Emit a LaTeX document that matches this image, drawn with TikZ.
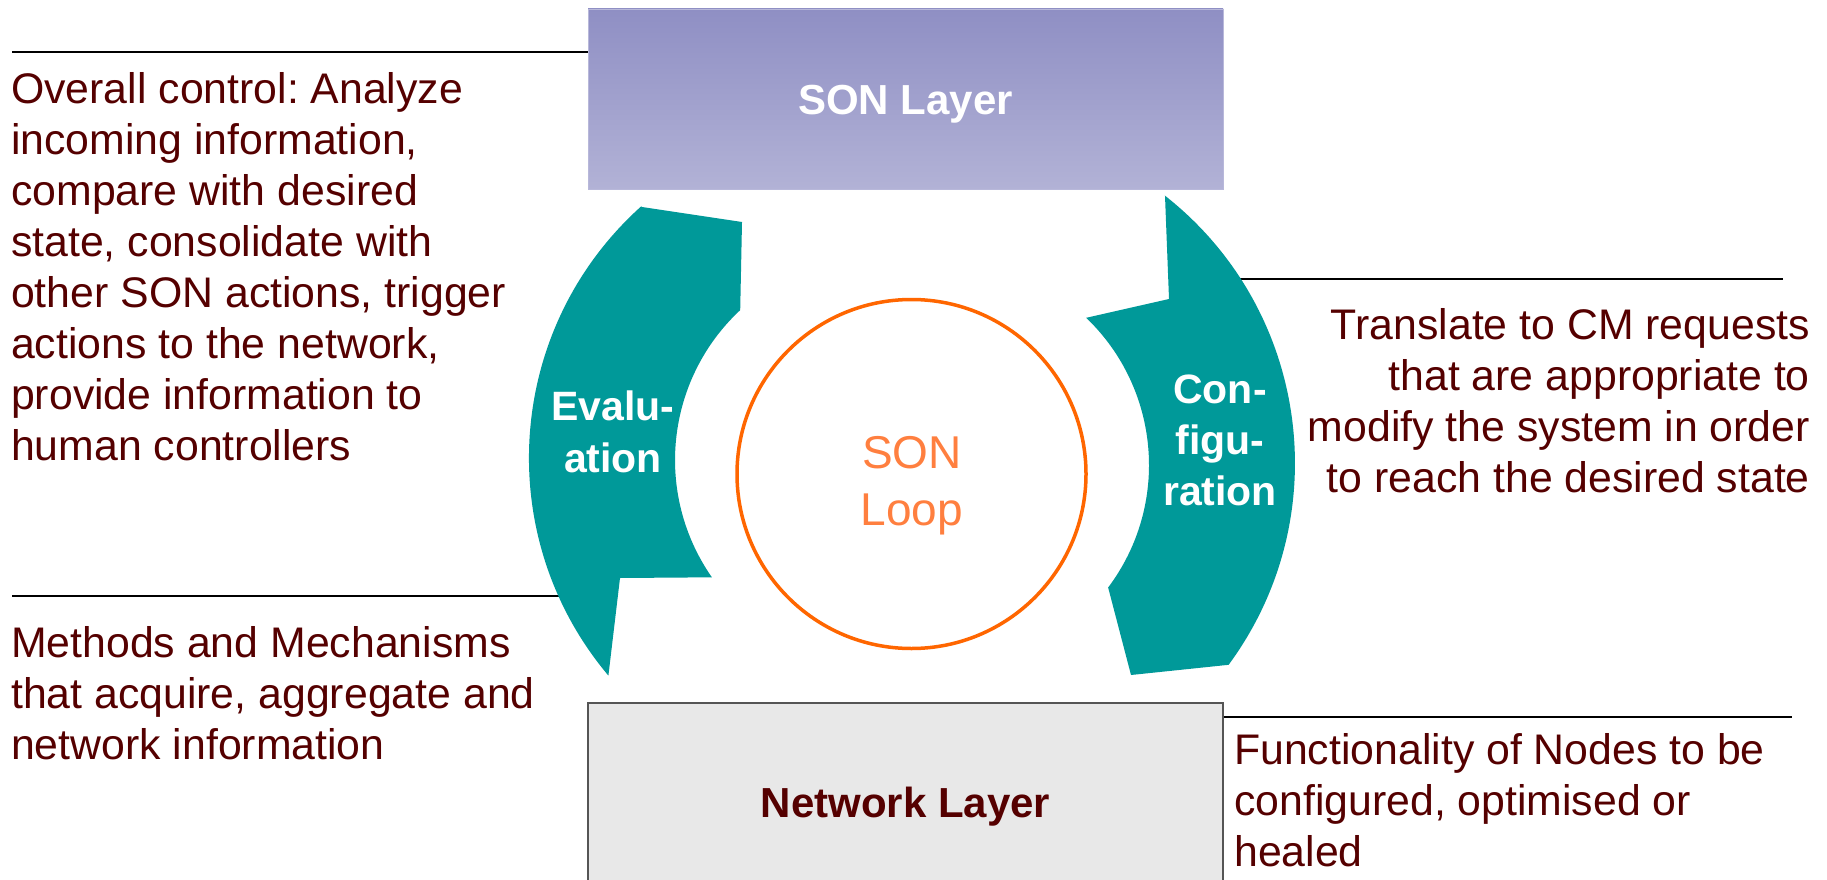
\documentclass[tikz,border=0pt]{standalone}
\usepackage{fontspec}
\setmainfont{Liberation Sans}
\frenchspacing
\definecolor{txt}{RGB}{85,0,0}
\definecolor{tealarr}{RGB}{0,153,153}
\definecolor{sontop}{RGB}{143,143,196}
\definecolor{sonbot}{RGB}{178,178,214}
\definecolor{sonedge}{RGB}{184,184,218}
\definecolor{netfill}{RGB}{232,232,232}
\definecolor{netedge}{RGB}{85,85,85}
\definecolor{loopline}{RGB}{255,102,0}
\definecolor{looptext}{RGB}{255,127,63}
\tikzset{
  body/.style={inner sep=0pt, text=txt, font=\fontsize{42.8}{51}\selectfont},
  rule/.style={draw=black, line width=2.2pt},
  arrowshape/.style={fill=tealarr},
  arrowlabel/.style={inner sep=0pt, text=white, align=center, font=\fontsize{41}{52}\selectfont\bfseries},
  layerbox/.style={rectangle, minimum width=635pt, inner sep=0pt, text height=32pt, text depth=0pt, font=\fontsize{42}{51}\selectfont\bfseries},
}
\begin{document}
\begin{tikzpicture}[x=1pt,y=-1pt]
\clip (0,0) rectangle (1827,880);
\fill[white] (0,0) rectangle (1827,880);

% layer boxes
\node[layerbox, minimum height=180pt, draw=sonedge, line width=0.8pt, top color=sontop, bottom color=sonbot, text=white] (son) at (905.5,99) {SON Layer};
\node[layerbox, minimum height=196pt, draw=netedge, line width=1.5pt, fill=netfill, text=txt] (net) at (905.5,801) {Network Layer};

% rules
\coordinate (r1a) at (12,52);
\coordinate (r2a) at (1200,279);
\coordinate (r2b) at (1783,279);
\coordinate (r3a) at (12,596);
\coordinate (r3b) at (590,596);
\coordinate (r4b) at (1792,717);
\draw[rule] (r1a) -- (son.west |- r1a);
\draw[rule] (r2a) -- (r2b);
\draw[rule] (r3a) -- (r3b);
\draw[rule] (net.east |- r4b) -- (r4b);

% loop arrows
\fill[arrowshape] (642,207) -- (742,222) -- (740.2,310.1)
  arc[start angle=227, end angle=145.1, radius=205]
  -- (620,578) -- (608.4,675.6)
  arc[start angle=139.9, end angle=228.1, radius=338] -- cycle;
\fill[arrowshape] (1165,196) -- (1169,299) -- (1086.2,317.8)
  arc[start angle=-46.2, end angle=36.9, radius=204]
  -- (1131,675) -- (1228.6,664.8)
  arc[start angle=36.4, end angle=-51.9, radius=340] -- cycle;

% labels (anchor=base is the baseline of the last line)
\node[arrowlabel, anchor=base] (eval) at (613,472) {Evalu-\\ation};
\node[arrowlabel, anchor=base, font=\fontsize{41}{51}\selectfont\bfseries] (conf) at (1220,505) {Con-\\figu-\\ration};

% SON loop
\node[circle, draw=loopline, line width=3.5pt, minimum size=349pt, inner sep=0pt] (loop) at (911.5,474) {};
\node[inner sep=0pt, align=center, text=looptext, font=\fontsize{46}{57}\selectfont, anchor=base] (looplabel) at (912,525) {SON\\Loop};

% descriptions
\node[body, anchor=base west, align=left] (ctrl) at (11,460) {Overall control: Analyze\\incoming information,\\compare with desired\\state, consolidate with\\other SON actions, trigger\\actions to the network,\\provide information to\\human controllers};
\node[body, anchor=base east, align=right] (cm) at (1810,492) {Translate to CM requests\\that are appropriate to\\modify the system in order\\to reach the desired state};
\node[body, anchor=base west, align=left] (meth) at (11,759) {Methods and Mechanisms\\that acquire, aggregate and\\network information};
\node[body, anchor=base west, align=left] (func) at (1234,866) {Functionality of Nodes to be\\configured, optimised or\\healed};
\end{tikzpicture}
\end{document}
